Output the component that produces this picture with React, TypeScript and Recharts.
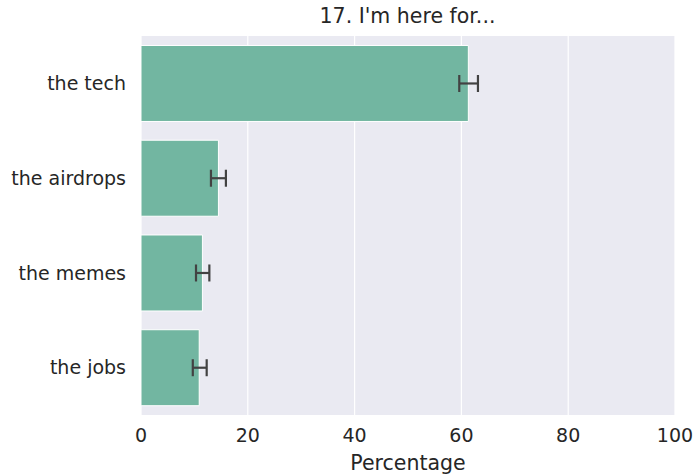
import { BarChart, Bar, XAxis, YAxis, CartesianGrid, ErrorBar } from 'recharts';

const categories = ['the tech', 'the airdrops', 'the memes', 'the jobs'];
const percentages = [61.3, 14.5, 11.5, 10.9];
const ciLow = [59.6, 13.1, 10.3, 9.7];
const ciHigh = [63.1, 15.9, 12.8, 12.3];
const xTicks = [0, 20, 40, 60, 80, 100];

const data = categories.map((name, i) => ({
  name,
  value: percentages[i],
  err: [percentages[i] - ciLow[i], ciHigh[i] - percentages[i]],
}));

const font = 'DejaVu Sans, sans-serif';
const textColor = '#262626';

export default function App() {
  return (
    <div style={{ position: 'absolute', left: 0, top: 0, width: 697, height: 476, background: '#fff' }}>
      <div
        style={{
          position: 'absolute',
          left: 140,
          width: 535,
          top: 4,
          textAlign: 'center',
          fontFamily: font,
          fontSize: 20.5,
          color: textColor,
        }}
      >
        17. I'm here for...
      </div>
      <BarChart
        width={697}
        height={476}
        data={data}
        layout="vertical"
        margin={{ top: 36, right: 22, left: 0, bottom: 0 }}
        barCategoryGap="10%"
      >
        <CartesianGrid horizontal={false} stroke="#ffffff" fill="#eaeaf2" strokeWidth={1.2} />
        <XAxis
          type="number"
          domain={[0, 100]}
          ticks={xTicks}
          axisLine={false}
          tickLine={false}
          tickMargin={8}
          height={61}
          tick={{ fill: textColor, fontSize: 19, fontFamily: font }}
          label={{ value: 'Percentage', position: 'insideBottom', offset: 6, fill: textColor, fontSize: 20.5, fontFamily: font }}
        />
        <YAxis
          type="category"
          dataKey="name"
          width={141}
          axisLine={false}
          tickLine={false}
          tickMargin={9}
          tick={{ fill: textColor, fontSize: 19, fontFamily: font }}
        />
        <Bar dataKey="value" fill="#72b6a1" stroke="#ffffff" strokeWidth={1} isAnimationActive={false}>
          <ErrorBar dataKey="err" direction="x" width={8.5} stroke="#424242" strokeWidth={2.2} />
        </Bar>
      </BarChart>
    </div>
  );
}
